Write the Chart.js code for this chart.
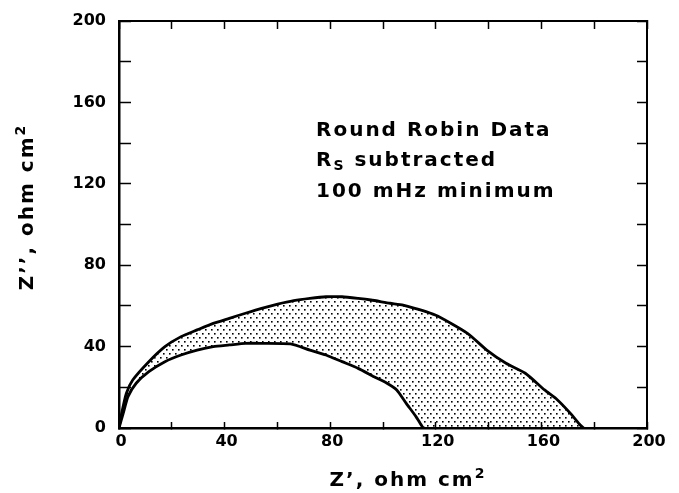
<!DOCTYPE html>
<html>
<head>
<meta charset="utf-8">
<script src="https://cdn.jsdelivr.net/npm/chart.js@4"></script>
<style>
body{margin:0;background:#fff;}
#wrap{width:679px;height:493px;position:relative;}
</style>
</head>
<body>
<div id="wrap"><canvas id="chart"></canvas></div>
<script>
/* data, ohm cm2 */
const outerX=[0,1,2.8,5.2,11.3,17.4,23.5,29.6,35.7,41.8,47.9,54,60.1,66.2,72.3,78.4,84.5,90.6,95.4,102.7,107.6,119.8,132,139.3,146.6,153.9,161.2,166.1,171,174.7,176];
const outerY=[0,7.2,17.1,23.6,32.6,40,44.9,48.2,51.4,53.9,56.4,58.8,60.9,62.6,63.7,64.5,64.5,63.7,62.9,61.3,60.4,55.5,46.5,38.3,31.8,26.9,18.7,13.8,7.2,1.5,0];
const innerX=[0,1.6,3.4,6.5,11.3,17.4,23.5,29.6,35.7,41.8,47.9,54,65,72.3,78.4,84.5,90.6,96.6,101.5,105.2,108.8,112.5,114.9,115.5];
const innerY=[0,7.2,15.4,22,27.7,32.6,35.9,38.3,40,40.8,41.6,41.6,41.3,38.3,35.9,32.6,29.3,25.2,22,18.7,12.1,5.6,0.6,0];
const axisTicks=[0,40,80,120,160,200];
const noteLines=["Round Robin Data","subtracted","100 mHz minimum"];

const pts=(xs,ys)=>xs.map((x,i)=>({x:x,y:ys[i]}));
const outer=pts(outerX,outerY);
const inner=pts(innerX,innerY);
const band=outer.concat(inner.slice().reverse());

/* dotted fill */
function dots(){
let c=document.createElement("canvas");
c.width=6;c.height=8;
let g=c.getContext("2d");
g.fillStyle="#000";
g.fillRect(1,1,1.6,1.6);
g.fillRect(4,5,1.6,1.6);
return g.createPattern(c,"repeat");
}

const lbl=v=>axisTicks.includes(v)?v:"";
const tickFont={family:"DejaVu Sans",weight:"bold",size:16};

/* fixed box sizes, and no extra padding from the label gap */
function fixSize(w,h){
return s=>{
if(w!=null){ s.width=w; s.paddingTop=10; s.paddingBottom=10; }
if(h!=null){ s.height=h; s.paddingLeft=0; s.paddingRight=17; }
};
}

/* texts with super/subscripts */
function runText(ctx,parts,x,y,align){
let total=0;
parts.forEach(p=>{ctx.font=p.font;p.w=ctx.measureText(p.t).width;total+=p.w;});
let cx=align==="center"?x-total/2:x;
parts.forEach(p=>{ctx.font=p.font;ctx.fillText(p.t,cx,y+(p.dy||0));cx+=p.w;});
}

const notes={
id:"notes",
afterDraw(chart){
let ctx=chart.ctx;
ctx.save();
ctx.fillStyle="#000";
ctx.textBaseline="alphabetic";
ctx.letterSpacing="2px";
let big="bold 20px 'DejaVu Sans'",small="bold 14px 'DejaVu Sans'";
let f="bold 20px 'DejaVu Sans'",fs="bold 14px 'DejaVu Sans'";
runText(ctx,[{t:noteLines[0],font:f}],316,136,"left");
runText(ctx,[{t:"R",font:f},{t:"S",font:fs,dy:4},{t:" "+noteLines[1],font:f}],316,166,"left");
runText(ctx,[{t:noteLines[2],font:f}],316,197,"left");

runText(ctx,[{t:"Z’, ohm cm",font:big},{t:"2",font:small,dy:-8}],408,486,"center");

ctx.translate(33,207);
ctx.rotate(-Math.PI/2);
runText(ctx,[{t:"Z’’, ohm cm",font:big},{t:"2",font:small,dy:-8}],0,0,"center");
ctx.restore();
}
};

new Chart(document.getElementById("chart"),{
type:"scatter",
data:{datasets:[
{data:band,showLine:true,fill:"shape",backgroundColor:dots(),borderWidth:0,pointRadius:0,order:3},
{data:outer,showLine:true,borderColor:"#000",borderWidth:2.8,pointRadius:0,tension:0.2,order:1},
{data:inner,showLine:true,borderColor:"#000",borderWidth:2.8,pointRadius:0,tension:0.2,order:2}
]},
options:{
responsive:true,
maintainAspectRatio:false,
animation:false,
layout:{padding:0},
plugins:{legend:{display:false},tooltip:{enabled:false}},
scales:{
x:{type:"linear",axis:"x",position:"bottom",min:0,max:200,
ticks:{stepSize:20,callback:lbl,color:"#000",font:tickFont,padding:10,maxRotation:0,autoSkip:false,labelOffset:2},
grid:{drawOnChartArea:false,tickLength:-6,tickColor:"#000",tickWidth:1.5},
border:{color:"#000",width:2.5},
afterFit:fixSize(null,65)},
x2:{type:"linear",axis:"x",position:"top",min:0,max:200,
ticks:{stepSize:20,display:false},
grid:{drawOnChartArea:false,tickLength:-8,tickColor:"#000",tickWidth:1.5},
border:{color:"#000",width:2},
afterFit:fixSize(null,21)},
y:{type:"linear",axis:"y",position:"left",min:0,max:200,
ticks:{stepSize:20,callback:lbl,color:"#000",font:tickFont,padding:25,autoSkip:false},
grid:{drawOnChartArea:false,tickLength:-12,tickColor:"#000",tickWidth:1.5},
border:{color:"#000",width:2.5},
afterFit:fixSize(119,null)},
y2:{type:"linear",axis:"y",position:"right",min:0,max:200,
ticks:{stepSize:20,display:false},
grid:{drawOnChartArea:false,tickLength:-10,tickColor:"#000",tickWidth:1.5},
border:{color:"#000",width:2},
afterFit:fixSize(32,null)}
}
},
plugins:[notes]
});
</script>
</body>
</html>
